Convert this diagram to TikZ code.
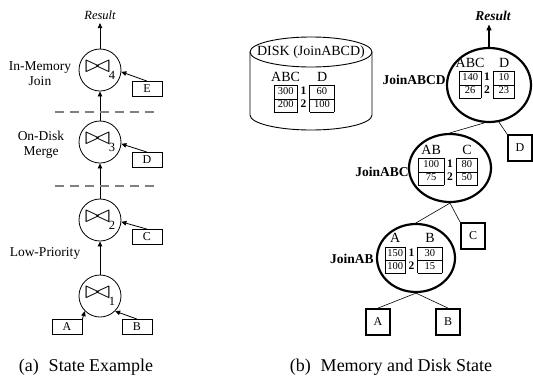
\documentclass[tikz,border=0pt]{standalone}
\usepackage{fontspec}
\setmainfont{Liberation Serif}
\usepackage{array}
\usetikzlibrary{arrows.meta,shapes.geometric}
\tikzset{every picture/.style={line width=0.75pt}}
\newcommand{\jbow}[1]{\scalebox{1.25}[1]{\fontsize{32}{32}\selectfont$\bowtie$}\kern-1.5pt\raisebox{-7pt}{\fontsize{12.5}{12}\selectfont #1}}
\newcommand{\jtab}[8]{{\fontsize{10.5}{11}\selectfont\setlength\tabcolsep{3pt}%
\renewcommand\arraystretch{1.2}\setlength\arrayrulewidth{0.5pt}%
\begin{tabular}{|w{c}{#1}|c|w{c}{#2}|}
\multicolumn{1}{w{c}{#1}}{\fontsize{14}{14}\selectfont #3} & \multicolumn{1}{c}{} & \multicolumn{1}{w{c}{#2}}{\fontsize{14}{14}\selectfont #4}\\ \cline{1-1}\cline{3-3}
#5 & \fontsize{11.5}{11}\selectfont\bfseries 1 & #7\\ \cline{1-1}\cline{3-3}
#6 & \fontsize{11.5}{11}\selectfont\bfseries 2 & #8\\ \cline{1-1}\cline{3-3}
\end{tabular}}}
\tikzset{
  jop/.style={circle, draw, line width=0.8pt, minimum size=42pt, inner sep=0pt},
  rel/.style={draw, line width=0.8pt, minimum width=30pt, minimum height=15pt, inner sep=0pt, font=\fontsize{12}{12}\selectfont},
  feed/.style={-{Triangle[length=5pt,width=4.5pt]}, line width=0.8pt},
  sep/.style={dashed, dash pattern=on 9pt off 6pt, gray, line width=1.1pt},
  lbl/.style={font=\fontsize{13.5}{15}\selectfont, align=center},
  jnode/.style={ellipse, draw, line width=2.2pt, inner sep=0pt},
  relb/.style={draw, line width=1.8pt, minimum width=24pt, minimum height=26pt, inner sep=0pt, font=\fontsize{12}{12}\selectfont},
  jname/.style={anchor=east, inner sep=1pt, font=\fontsize{13.5}{14}\selectfont\bfseries},
  captext/.style={font=\fontsize{18}{20}\selectfont}
}

\begin{document}
\begin{tikzpicture}[x=1pt,y=-1pt]
\useasboundingbox (0,0) rectangle (533,378);
% (a) state example
\node[jop] (j1) at (100,296) {\jbow{1}};
\node[jop] (j2) at (100,220) {\jbow{2}};
\node[jop] (j3) at (100,142) {\jbow{3}};
\node[jop] (j4) at (100,70) {\jbow{4}};
\node[rel] (a) at (67,327) {A};
\node[rel] (b) at (137,327) {B};
\node[rel] (c) at (147,237) {C};
\node[rel] (d) at (147,160) {D};
\node[rel] (e) at (147,89) {E};
\node[font=\fontsize{12.5}{13}\selectfont\itshape] (res) at (100,15) {Result};
%
\foreach \Source/\Target in {%
        j1.north/j2.south,
        j2.north/j3.south,
        j3.north/j4.south,
        j4.north/res.south,
        a.north east/j1.225,
        b.north/j1.315,
        c.north/j2.-5,
        d.north/j3.-5,
        e.north/j4.-5%
    }
\draw[feed] (\Source) to (\Target);
%
\draw[sep] (55,112) to (157,112);
\draw[sep] (55,186) to (157,186);
\node[lbl] (lmem) at (40,74) {In-Memory\\Join};
\node[lbl] (ldisk) at (41,145) {On-Disk\\Merge};
\node[lbl] (llow) at (45,253) {Low-Priority};
\node[captext] (capa) at (86,367) {(a)\hspace{10pt}State Example};
%
% (b) memory and disk state
\draw[line width=0.9pt] (311,52) ellipse [x radius=61pt, y radius=15pt];
\draw[line width=0.9pt] (250,52) -- (250,115) arc[start angle=180, end angle=360, x radius=61pt, y radius=15pt] -- (372,52);
\node[font=\fontsize{14}{14}\selectfont] (disklbl) at (311,52) {DISK (JoinABCD)};
\node[inner sep=0pt] (disktab) at (304,92) {\jtab{17pt}{18pt}{ABC}{D}{300}{200}{60}{100}};
%
\node[jnode, minimum width=84pt, minimum height=74pt] (abcd) at (489,85) {};
\node[jnode, minimum width=82pt, minimum height=68pt] (abc) at (450,168) {};
\node[jnode, minimum width=78pt, minimum height=68pt] (ab) at (416,258) {};
\node[inner sep=0pt] (abcdtab) at (487,78) {\jtab{15pt}{15pt}{ABC}{D}{140}{26}{10}{23}};
\node[inner sep=0pt] (abctab) at (448,165) {\jtab{19pt}{15pt}{AB}{C}{100}{75}{80}{50}};
\node[inner sep=0pt] (abtab) at (413.5,253.5) {\jtab{14pt}{18pt}{A}{B}{150}{100}{30}{15}};
\node[jname] (abcdlbl) at (447,80) {JoinABCD};
\node[jname] (abclbl) at (410,172) {JoinABC};
\node[jname] (ablbl) at (375,259) {JoinAB};
\node[font=\fontsize{13.5}{14}\selectfont\bfseries\itshape] (rres) at (493,16) {Result};
\draw[-{Triangle[length=6pt,width=5pt]}, line width=1.4pt] (abcd.north) -- (abcd.north |- rres.south);
%
\node[relb] (rd) at (520,148) {D};
\node[relb] (rc) at (473,236) {C};
\node[relb] (ra) at (378,322) {A};
\node[relb] (rb) at (448,322) {B};
%
\foreach \Source/\Target in {%
        abcd.263/abc.north,
        abcd.285/rd.north west,
        abc.south/ab.north,
        abc.south/rc.north west,
        ab.south/ra.north,
        ab.south/rb.north%
    }
\draw[line width=0.6pt] (\Source) to (\Target);
%
\node[captext] (capb) at (391,367) {(b)\hspace{10pt}Memory and Disk State};
\end{tikzpicture}
\end{document}
